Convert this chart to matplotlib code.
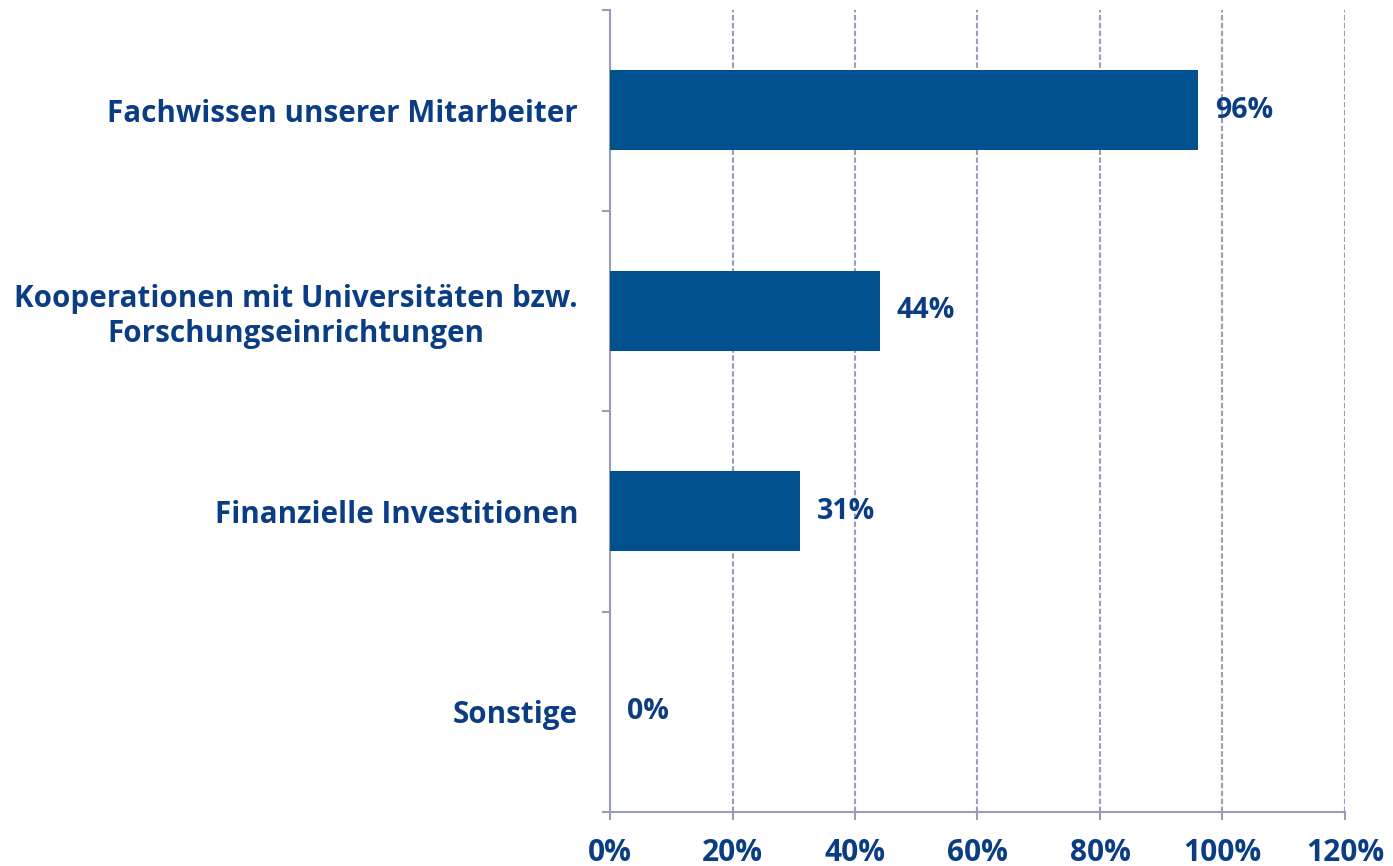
import matplotlib
matplotlib.use("Agg")
import matplotlib.pyplot as plt
from matplotlib.ticker import FixedLocator, NullFormatter

categories = ["Fachwissen unserer Mitarbeiter",
              "Kooperationen mit Universitäten bzw.\nForschungseinrichtungen",
              "Finanzielle Investitionen",
              "Sonstige"]
values = [96, 44, 31, 0]
xticks = [0, 20, 40, 60, 80, 100, 120]
xtick_labels = ["0%", "20%", "40%", "60%", "80%", "100%", "120%"]

BAR = "#00518E"
TXT = "#0B3D84"
AX = "#9A9DB8"

plt.rcParams['font.family'] = ['Open Sans', 'DejaVu Sans']

W, H = 1393, 866
fig = plt.figure(figsize=(W/100, H/100), dpi=100)
ax = fig.add_axes([610/W, 1-812/H, (1345-610)/W, (812-10)/H])

n = len(categories)
ypos = list(range(n))
ax.barh(ypos, values, height=0.4, color=BAR, zorder=3)
ax.set_ylim(n-0.5, -0.5)
ax.set_xlim(0, 120)

ax.set_xticks(xticks)
ax.set_xticklabels(xtick_labels, fontsize=21.5, fontweight='bold', color=TXT)
ax.tick_params(axis='x', length=6, width=1.5, color=AX, pad=13)

ax.set_yticks(ypos)
ax.set_yticklabels(categories, fontsize=21.3, fontweight='bold', color=TXT,
                   multialignment='center', linespacing=1.2)
ax.tick_params(axis='y', which='major', length=0, pad=23)
ax.yaxis.set_minor_locator(FixedLocator([i - 0.5 for i in range(n+1)]))
ax.yaxis.set_minor_formatter(NullFormatter())
ax.tick_params(axis='y', which='minor', length=6, width=1.5, color=AX)

for s in ['top', 'right']:
    ax.spines[s].set_visible(False)
for s in ['left', 'bottom']:
    ax.spines[s].set_color(AX)
    ax.spines[s].set_linewidth(1.5)

ax.grid(axis='x', linestyle=(0, (2.6, 1.2)), color=AX, linewidth=1.5, zorder=0)
ax.set_axisbelow(True)

for y, v in zip(ypos, values):
    ax.annotate(f"{v}%", xy=(v, y), xytext=(12, 0), textcoords='offset points',
                ha='left', va='center', fontsize=20.5, fontweight='bold', color=TXT)

fig.savefig("out.png", dpi=100)
